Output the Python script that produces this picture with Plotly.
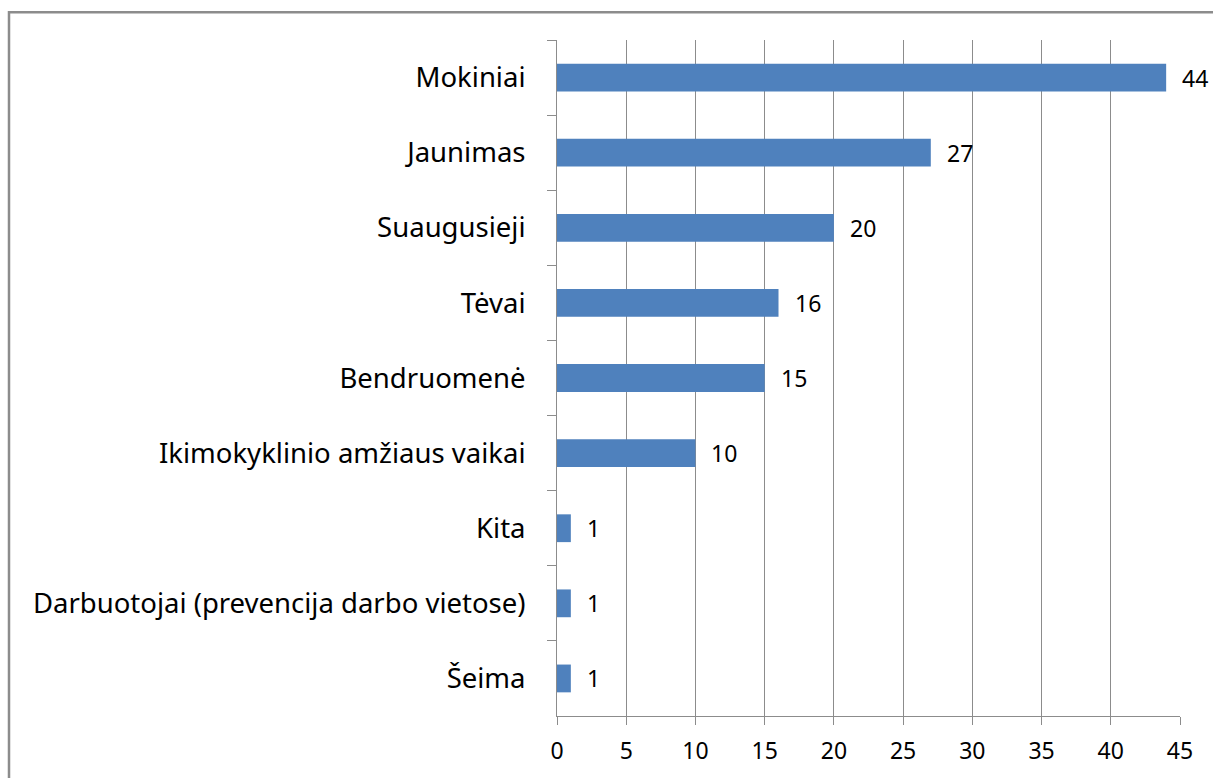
import plotly.graph_objects as go

categories = ["Mokiniai", "Jaunimas", "Suaugusieji", "Tėvai", "Bendruomenė",
              "Ikimokyklinio amžiaus vaikai", "Kita",
              "Darbuotojai (prevencija darbo vietose)", "Šeima"]
values = [44, 27, 20, 16, 15, 10, 1, 1, 1]
x_ticks = [0, 5, 10, 15, 20, 25, 30, 35, 40, 45]

W, H = 1213, 778
L, R, T, B = 557, 1180, 40, 720

fig = go.Figure(go.Bar(
    y=categories, x=values, orientation="h",
    marker=dict(color="#4F81BD", line=dict(width=0)),
    hoverinfo="skip",
))

for c, v in zip(categories, values):
    fig.add_annotation(x=v, y=c, text=str(v), showarrow=False,
                       xanchor="left", yanchor="middle", xshift=14,
                       font=dict(family="Noto Sans", size=23, color="#000000"))

pw, ph = R - L, B - T
fig.add_shape(type="rect", xref="paper", yref="paper",
              x0=(9 - L) / pw, x1=(1240 - L) / pw,
              y0=(B - 800) / ph, y1=(B - 12) / ph,
              line=dict(color="#8C8C8C", width=2.5), fillcolor="rgba(0,0,0,0)", layer="below")

fig.update_layout(
    width=W, height=H,
    margin=dict(l=L, r=W - R, t=T, b=H - B),
    paper_bgcolor="white", plot_bgcolor="white",
    bargap=0.63, showlegend=False,
    font=dict(family="Noto Sans", size=23, color="#000000"),
    xaxis=dict(range=[0, 45], tickvals=x_ticks, ticktext=[str(t) for t in x_ticks],
               showgrid=True, gridcolor="#8C8C8C", gridwidth=1,
               showline=True, linecolor="#8C8C8C", linewidth=1,
               ticks="outside", ticklen=8, tickcolor="#8C8C8C",
               zeroline=False, tickfont=dict(size=23), ticklabelstandoff=6,
               fixedrange=True),
    yaxis=dict(autorange="reversed", type="category", tickson="boundaries",
               showline=True, linecolor="#8C8C8C", linewidth=1,
               ticks="outside", ticklen=9, tickcolor="#8C8C8C",
               showgrid=False, ticklabelstandoff=25, tickfont=dict(size=27.5),
               fixedrange=True),
)

fig.write_html("out.html", config={"displayModeBar": False},
               post_script="document.body.style.margin='0';document.body.style.overflow='hidden';")
